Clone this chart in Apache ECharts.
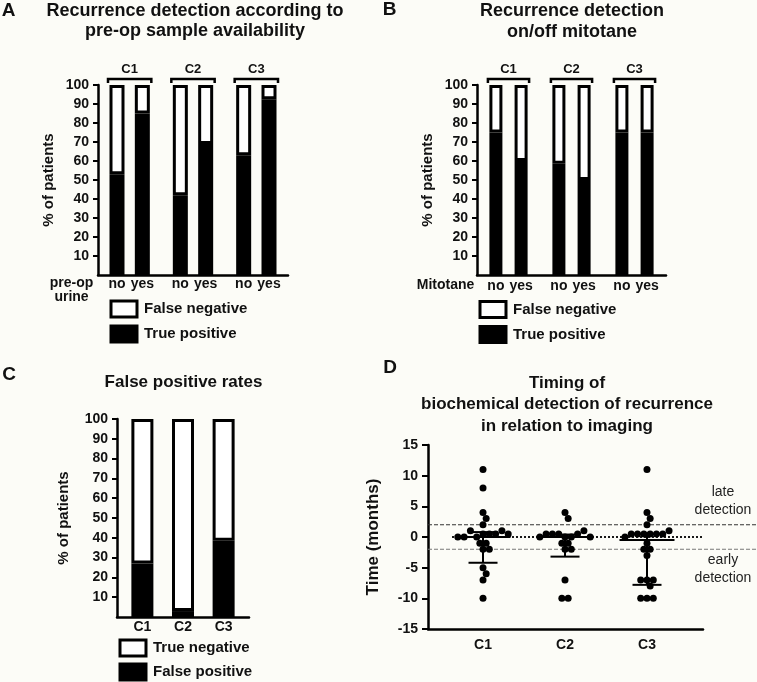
<!DOCTYPE html>
<html><head><meta charset="utf-8">
<script src="https://cdn.jsdelivr.net/npm/echarts@6/dist/echarts.min.js"></script>
<style>html,body{margin:0;padding:0;background:#fcfcf7}#c{width:757px;height:682px}</style>
</head><body><div id="c"></div>
<script>
// ---------------- data ----------------
const groupLabels = ['C1', 'C2', 'C3'];
const preopLabels = ['no', 'yes'];
const truePosA  = [53, 85, 42, 69, 63, 92.5];
const falseNegA = [47, 15, 58, 31, 37, 7.5];

const mitotaneLabels = ['no', 'yes'];
const truePosB  = [75, 60, 58.5, 50, 75, 75];
const falseNegB = [25, 40, 41.5, 50, 25, 25];

const catsC     = ['C1', 'C2', 'C3'];
const falsePosC = [27, 3, 38.5];
const trueNegC  = [73, 97, 61.5];

const catsD    = ['C1', 'C2', 'C3'];
const timingC1 = [11, 8, 4, 3, 2, 0, 0, 1, 0, 0.5, 0.5, 0.5, 1, 0.5, -1, -1, -2, -2, -5, -6, -7, -10];
const timingC2 = [4, 3, 0, 0.5, 0.5, 0.5, 0, 0, 0.5, 1, 0, -1, -1, -2, -2, -7, -10, -10];
const timingC3 = [11, 4, 3, 2, 0, 0.5, 0.5, 0.5, 0.5, 0.5, 0.5, 1, -1, -2, -2, -3, -7, -7, -7, -8, -10, -10, -10];
const medianD  = [0, 0, -0.5];
const q1D      = [-4.2, -3.2, -7.8];
const q3D      = [0.8, 0.4, 0.5];
const refLinesD = [2, 0, -2];

// ---------------- layout helpers ----------------
const FONT = 'Liberation Sans, Arial, Helvetica, sans-serif';
const INK = '#111';
const slotsAB = [1, 3, 6, 8, 11, 13], nSlotsAB = 15;
const slotsC = [2, 6, 10], nSlotsC = 13;
const D_XMIN = 0.329, D_XMAX = 3.683;
const pxX = 275 / (D_XMAX - D_XMIN), pxY = 184 / 30;

function slotArray(n, slots, vals, blank) {
  const a = new Array(n).fill(blank);
  slots.forEach((s, i) => { a[s] = vals[i]; });
  return a;
}
function swarm(vals, cx) {
  const dot = 6.4, gap = 6.3;
  const items = vals.map((v, i) => ({ v, i })).sort((a, b) => b.v - a.v);
  const bands = []; let cur = [];
  items.forEach(it => {
    if (cur.length && cur[cur.length - 1].v - it.v >= 0.95) { bands.push(cur); cur = []; }
    cur.push(it);
  });
  if (cur.length) bands.push(cur);
  const placed = [];
  bands.forEach(b => {
    b.sort((a, c) => a.i - c.i);
    const n = b.length;
    const base = b.map((it, j) => (j - (n - 1) / 2) * gap);
    let chosen = 0;
    for (const s of [0, 3.15, -3.15, 6.3, -6.3]) {
      const ok = b.every((it, j) => placed.every(p => Math.hypot(p[0] - (base[j] + s), (p[1] - it.v) * pxY) >= dot));
      if (ok) { chosen = s; break; }
    }
    b.forEach((it, j) => placed.push([base[j] + chosen, it.v]));
  });
  return placed.map(p => [cx + p[0] / pxX, p[1]]);
}

const labelStyle = { fontSize: 14, fontWeight: 'bold', color: INK, fontFamily: FONT };
function pctYAxis(gridIndex, nameGap) {
  return {
    type: 'value', gridIndex, min: 0, max: 100, interval: 10,
    name: '% of patients', nameLocation: 'middle', nameGap,
    nameTextStyle: { fontSize: 15, fontWeight: 'bold', color: INK, fontFamily: FONT },
    axisLine: { show: true, onZero: false, lineStyle: { color: '#000', width: 2.5 } },
    axisTick: { show: true, length: 5, lineStyle: { color: '#000', width: 2 } },
    axisLabel: Object.assign({ showMinLabel: false, margin: 9 }, labelStyle),
    splitLine: { show: false }
  };
}
function catXAxis(gridIndex, n, labels, margin) {
  return {
    type: 'category', gridIndex,
    data: Array.from({ length: n }, (_, i) => 's' + i),
    axisLine: { onZero: false, lineStyle: { color: '#000', width: 2.5 } },
    axisTick: { show: false },
    axisLabel: Object.assign({ interval: 0, margin, lineHeight: 14, formatter: (v, i) => labels[i] }, labelStyle)
  };
}
const blackStyle = { color: '#000', borderColor: '#000', borderWidth: 3 };
const whiteStyle = { color: '#fff', borderColor: '#000', borderWidth: 3 };

function bracketSeries(xi, yi, slots, barHalf) {
  const pairs = groupLabels.map((g, i) => [slots[2 * i], slots[2 * i + 1]]);
  return {
    type: 'custom', xAxisIndex: xi, yAxisIndex: yi, clip: false, silent: true,
    data: pairs,
    renderItem: (params, api) => {
      const p1 = api.coord([api.value(0), 100]);
      const p2 = api.coord([api.value(1), 100]);
      const x1 = p1[0] - barHalf, x2 = p2[0] + barHalf, y = p1[1] - 6;
      return {
        type: 'group', children: [
          { type: 'polyline', shape: { points: [[x1, y + 4], [x1, y], [x2, y], [x2, y + 4]] },
            style: { stroke: '#000', lineWidth: 2.5, fill: null } },
          { type: 'text', style: { text: groupLabels[params.dataIndex], x: (x1 + x2) / 2, y: y - 10,
            align: 'center', verticalAlign: 'middle', font: 'bold 13px ' + FONT, fill: INK } }
        ]
      };
    }
  };
}
function legendFor(left, top, gap, items) {
  return {
    left, top, height: 60, orient: 'vertical', itemWidth: 26, itemHeight: 16, itemGap: gap,
    padding: 0, selectedMode: false, icon: 'rect',
    textStyle: { fontSize: 15, fontWeight: 'bold', color: INK, fontFamily: FONT, lineHeight: 16, padding: [0, 0, 0, 2] },
    data: items.map(it => ({ name: it[0], icon: 'rect', itemStyle: it[1] }))
  };
}
function txt(text, x, y, size, weight, extra) {
  return { type: 'text', x, y, silent: true,
    style: Object.assign({ text, fill: INK, font: (weight || 'bold') + ' ' + size + 'px ' + FONT,
      align: 'center', verticalAlign: 'middle' }, extra || {}) };
}

const scatterData = [timingC1, timingC2, timingC3].flatMap((vals, i) => swarm(vals, i + 1));

const option = {
  backgroundColor: '#fcfcf7',
  animation: false,
  grid: [
    { left: 98, top: 85, width: 190, height: 190 },
    { left: 477, top: 85, width: 189, height: 190 },
    { left: 117, top: 419, width: 132, height: 198 },
    { left: 428, top: 445, width: 275, height: 184 }
  ],
  xAxis: [
    catXAxis(0, nSlotsAB, slotArray(nSlotsAB, slotsAB, groupLabels.flatMap(() => preopLabels), ''), 2),
    catXAxis(1, nSlotsAB, slotArray(nSlotsAB, slotsAB, groupLabels.flatMap(() => mitotaneLabels), ''), 4),
    catXAxis(2, nSlotsC, slotArray(nSlotsC, slotsC, catsC, ''), 3),
    {
      type: 'value', gridIndex: 3, min: D_XMIN, max: D_XMAX,
      axisLine: { show: true, onZero: false, lineStyle: { color: '#000', width: 2.5 } },
      axisTick: { show: false }, splitLine: { show: false },
      axisLabel: Object.assign({ margin: 9, customValues: [1, 2, 3], formatter: v => catsD[Math.round(v) - 1] || '' }, labelStyle)
    }
  ],
  yAxis: [
    pctYAxis(0, 42),
    pctYAxis(1, 42),
    pctYAxis(2, 46),
    {
      type: 'value', gridIndex: 3, min: -15, max: 15, interval: 5,
      name: 'Time (months)', nameLocation: 'middle', nameGap: 46,
      nameTextStyle: { fontSize: 17, fontWeight: 'bold', color: INK, fontFamily: FONT },
      axisLine: { show: true, onZero: false, lineStyle: { color: '#000', width: 2.5 } },
      axisTick: { show: true, length: 6, lineStyle: { color: '#000', width: 2 } },
      axisLabel: Object.assign({ margin: 10 }, labelStyle),
      splitLine: { show: false }
    }
  ],
  legend: [
    legendFor(109.5, 299.5, 6, [['False negative', whiteStyle], ['True positive', blackStyle]]),
    legendFor(478.5, 300, 6, [['False negative', whiteStyle], ['True positive', blackStyle]]),
    legendFor(118.5, 638.5, 5, [['True negative', whiteStyle], ['False positive', blackStyle]])
  ],
  series: [
    { type: 'bar', name: 'True positive', xAxisIndex: 0, yAxisIndex: 0, stack: 'A', barWidth: 15,
      data: slotArray(nSlotsAB, slotsAB, truePosA, '-'), itemStyle: blackStyle },
    { type: 'bar', name: 'False negative', xAxisIndex: 0, yAxisIndex: 0, stack: 'A', barWidth: 15,
      data: slotArray(nSlotsAB, slotsAB, falseNegA, '-'), itemStyle: whiteStyle },
    bracketSeries(0, 0, slotsAB, 9),
    { type: 'bar', name: 'True positive', xAxisIndex: 1, yAxisIndex: 1, stack: 'B', barWidth: 13,
      data: slotArray(nSlotsAB, slotsAB, truePosB, '-'), itemStyle: blackStyle },
    { type: 'bar', name: 'False negative', xAxisIndex: 1, yAxisIndex: 1, stack: 'B', barWidth: 13,
      data: slotArray(nSlotsAB, slotsAB, falseNegB, '-'), itemStyle: whiteStyle },
    bracketSeries(1, 1, slotsAB, 8),
    { type: 'bar', name: 'False positive', xAxisIndex: 2, yAxisIndex: 2, stack: 'C', barWidth: 22,
      data: slotArray(nSlotsC, slotsC, falsePosC, '-'), itemStyle: blackStyle },
    { type: 'bar', name: 'True negative', xAxisIndex: 2, yAxisIndex: 2, stack: 'C', barWidth: 22,
      data: slotArray(nSlotsC, slotsC, trueNegC, '-'), itemStyle: whiteStyle },
    { type: 'custom', name: 'reference lines', xAxisIndex: 3, yAxisIndex: 3, clip: false, silent: true, z: 1,
      data: refLinesD.map(v => [1, v]),
      renderItem: (params, api) => {
        const cs = params.coordSys;
        const v = api.value(1);
        const y = api.coord([1, v])[1];
        if (v === 0) {
          return { type: 'line', shape: { x1: cs.x + 24, y1: y, x2: cs.x + cs.width, y2: y },
            style: { stroke: '#000', lineWidth: 1.8, lineDash: [2, 2] } };
        }
        return { type: 'line', shape: { x1: cs.x, y1: y, x2: api.getWidth(), y2: y },
          style: { stroke: v > 0 ? '#333' : '#777', lineWidth: 1.2, lineDash: [4, 2] } };
      } },
    { type: 'scatter', name: 'timing', xAxisIndex: 3, yAxisIndex: 3, symbol: 'circle', symbolSize: 7, z: 3,
      itemStyle: { color: '#000', opacity: 1 }, data: scatterData },
    { type: 'custom', name: 'median IQR', xAxisIndex: 3, yAxisIndex: 3, clip: false, silent: true, z: 4,
      data: catsD.map((c, i) => [i + 1, medianD[i], q1D[i], q3D[i]]),
      renderItem: (params, api) => {
        const x = api.value(0);
        const pm = api.coord([x, api.value(1)]);
        const pl = api.coord([x, api.value(2)]);
        const ph = api.coord([x, api.value(3)]);
        const st = { stroke: '#000', lineWidth: 2 };
        const cap = 14.5, mw = 27.5;
        return { type: 'group', children: [
          { type: 'line', shape: { x1: pl[0], y1: pl[1], x2: ph[0], y2: ph[1] }, style: st },
          { type: 'line', shape: { x1: pl[0] - cap, y1: pl[1], x2: pl[0] + cap, y2: pl[1] }, style: st },
          { type: 'line', shape: { x1: ph[0] - cap, y1: ph[1], x2: ph[0] + cap, y2: ph[1] }, style: st },
          { type: 'line', shape: { x1: pm[0] - mw, y1: pm[1], x2: pm[0] + mw, y2: pm[1] }, style: st }
        ] };
      } }
  ],
  graphic: [
    txt('A', 8.5, 11, 19),
    txt('B', 389.5, 9.5, 19),
    txt('C', 9, 374.5, 19),
    txt('D', 390, 368, 19),
    txt('Recurrence detection according to\npre-op sample availability', 195, 21, 18, 'bold', { lineHeight: 20 }),
    txt('Recurrence detection\non/off mitotane', 572, 22, 18, 'bold', { lineHeight: 21 }),
    txt('False positive rates', 183.5, 382, 17),
    txt('Timing of\nbiochemical detection of recurrence\nin relation to imaging', 567, 404.5, 17, 'bold', { lineHeight: 21.5 }),
    txt('pre-op\nurine', 71.5, 290, 14, 'bold', { lineHeight: 14 }),
    txt('Mitotane', 445.5, 285, 14),
    txt('late\ndetection', 723, 501, 14, 'normal', { lineHeight: 18, fill: '#222' }),
    txt('early\ndetection', 723, 569, 14, 'normal', { lineHeight: 18, fill: '#222' })
  ]
};

const chart = echarts.init(document.getElementById('c'), null, { renderer: 'canvas' });
chart.setOption(option);
</script>
</body></html>
